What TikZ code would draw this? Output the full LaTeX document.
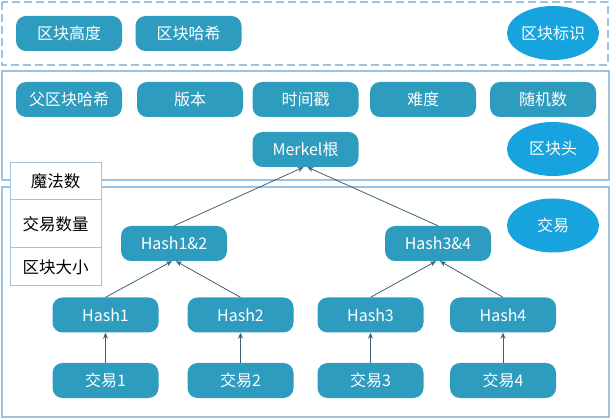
\documentclass[tikz,border=0pt]{standalone}
\usepackage{fontspec}
\setmainfont{Noto Sans CJK SC}
\usetikzlibrary{arrows.meta}
\usetikzlibrary{shapes}
\definecolor{boxblue}{RGB}{46,156,190}
\definecolor{ovalblue}{RGB}{22,163,222}
\definecolor{framegray}{RGB}{157,195,226}
\definecolor{linkgray}{RGB}{62,98,118}

\tikzset{
  field/.style={fill=boxblue, rounded corners=10pt, minimum width=106pt, minimum height=35pt,
    inner sep=0pt, text=white, font=\fontsize{16}{18}\selectfont},
  tag/.style={ellipse, fill=ovalblue, minimum width=92pt, minimum height=54pt,
    inner sep=0pt, text=white, font=\fontsize{16}{18}\selectfont},
  frame/.style={draw=framegray, line width=1.2pt},
  cell/.style={draw=framegray, fill=white, line width=1pt, minimum width=91pt,
    inner sep=0pt, text=black, font=\fontsize{16.5}{18}\selectfont},
  link/.style={draw=linkgray, line width=0.8pt, -{Stealth[length=6pt,width=5pt]}}
}

\begin{document}
\begin{tikzpicture}[x=1pt, y=-1pt]
  \useasboundingbox (0,0) rectangle (613,419);
  \draw[frame, dash pattern=on 8pt off 4pt] (2,2) rectangle (608,65);
  \draw[frame] (2,71) rectangle (609,180);
  \draw[frame] (2,187) rectangle (609,417);

  % block id
  \node[field] (height) at (69,33.5) {区块高度};
  \node[field] (hash) at (188.5,33.5) {区块哈希};
  \node[tag] (id) at (553,33) {区块标识};

  % block header
  \foreach \x / \n / \lab in {69/prev/父区块哈希, 190/ver/版本, 305.5/time/时间戳,
      423/diff/难度, 543/nonce/随机数} {
    \node[field] (\n) at (\x,99.5) {\lab};
  }
  \node[field] (root) at (305.5,149.5) {Merkel根};
  \node[tag] (head) at (553,149) {区块头};
  \node[tag] (tx) at (553,225.5) {交易};

  \node[cell, minimum height=37pt] (magic) at (55.5,181.5) {魔法数};
  \node[cell, minimum height=48pt] (count) at (55.5,224) {交易数量};
  \node[cell, minimum height=38pt] (size) at (55.5,267) {区块大小};

  % merkle tree
  \node[field] (h12) at (174,243.5) {Hash1\&2};
  \node[field] (h34) at (438,243.5) {Hash3\&4};
  \foreach \i / \x in {1/105.5, 2/240.5, 3/370.5, 4/503} {
    \node[field] (h\i) at (\x,315) {Hash\i};
    \node[field] (t\i) at (\x,380.5) {交易\i};
    \draw[link] (t\i) -- (h\i);
  }

  \draw[link] (h1.north) -- ([xshift=-2pt]h12.south);
  \draw[link] (h2.north) -- ([xshift=2pt]h12.south);
  \draw[link] (h3.north) -- ([xshift=-2pt]h34.south);
  \draw[link] (h4.north) -- ([xshift=2pt]h34.south);
  \draw[link] (h12.north) -- ([xshift=-2pt]root.south);
  \draw[link] (h34.north) -- ([xshift=2pt]root.south);
\end{tikzpicture}
\end{document}
